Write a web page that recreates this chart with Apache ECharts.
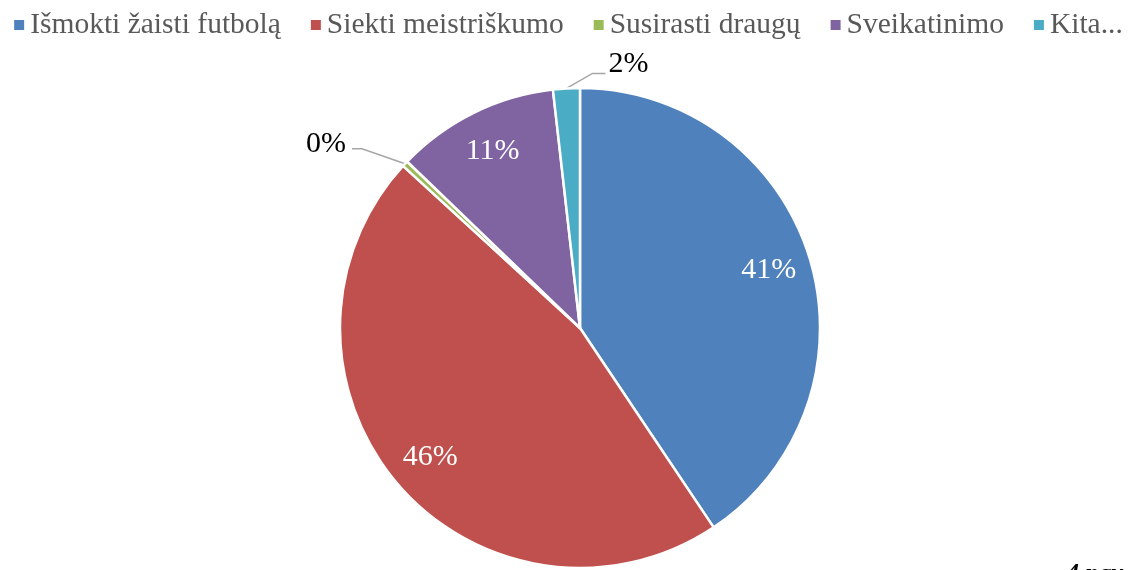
<!DOCTYPE html>
<html><head><meta charset="utf-8">
<script src="https://cdn.jsdelivr.net/npm/echarts@6/dist/echarts.min.js"></script>
<style>html,body{margin:0;padding:0;background:#fff}#c{width:1135px;height:570px}</style>
</head><body><div id="c"></div>
<script>
const categories = ['Išmokti žaisti futbolą', 'Siekti meistriškumo', 'Susirasti draugų', 'Sveikatinimo', 'Kita...'];
const values = [40.6, 46.2, 0.4, 11.0, 1.8];
const labels = ['41%', '46%', '0%', '11%', '2%'];
const insideLabel = [true, true, false, true, false];
const colors = ['#4F81BD', '#C0504D', '#9BBB59', '#8064A2', '#4BACC6'];
const FONT = '"Liberation Serif","Times New Roman",serif';

const chart = echarts.init(document.getElementById('c'), null, {renderer: 'canvas'});
const center = [580, 328];
const R = 240;
chart.setOption({
  animation: false,
  color: colors,
  legend: {
    top: 5, left: 'center',
    icon: 'rect', itemWidth: 12, itemHeight: 12, itemGap: 28,
    textStyle: {fontFamily: FONT, fontSize: 29.5, color: '#595959'},
    data: categories
  },
  series: [
    {
      type: 'pie', center: center, radius: R, startAngle: 90, clockwise: true,
      itemStyle: {borderColor: '#fff', borderWidth: 2.5},
      labelLine: {length: 12, length2: 12, lineStyle: {color: '#A6A6A6', width: 1.5}, smooth: false},
      labelLayout: function (p) {
        if (!p.labelLinePoints) return;
        const p0 = p.labelLinePoints[0];
        if (p.dataIndex === 4) {
          const p1 = [p0[0] + 26, p0[1] - 15], p2 = [p1[0] + 13, p1[1]];
          return {x: p2[0] + 3, y: p2[1] - 9, align: 'left', verticalAlign: 'middle', labelLinePoints: [p0, p1, p2]};
        }
        if (p.dataIndex === 2) {
          const p1 = [p0[0] - 43, p0[1] - 15], p2 = [p1[0] - 10, p1[1]];
          return {x: p2[0] - 6, y: p2[1] - 5, align: 'right', verticalAlign: 'middle', labelLinePoints: [p0, p1, p2]};
        }
      },
      data: categories.map((n, i) => ({
        name: n, value: values[i],
        label: insideLabel[i] ? {show: false} : {show: true, position: 'outside', formatter: labels[i], fontFamily: FONT, fontSize: 30, color: '#000'},
        labelLine: {show: !insideLabel[i]}
      }))
    },
    {
      type: 'pie', center: center, radius: [R * 0.62, R], startAngle: 90, clockwise: true,
      silent: true, legendHoverLink: false,
      itemStyle: {color: 'rgba(0,0,0,0)', borderWidth: 0},
      labelLine: {show: false},
      data: categories.map((n, i) => ({
        name: n, value: values[i],
        label: {show: insideLabel[i], position: 'inside', formatter: labels[i], fontFamily: FONT, fontSize: 30, color: '#fff'}
      }))
    }
  ],
  graphic: [{
    type: 'text', left: 1066, top: 561,
    style: {text: '4 pav.', font: 'italic bold 26px ' + FONT, fill: '#000'}
  }]
});
</script></body></html>
